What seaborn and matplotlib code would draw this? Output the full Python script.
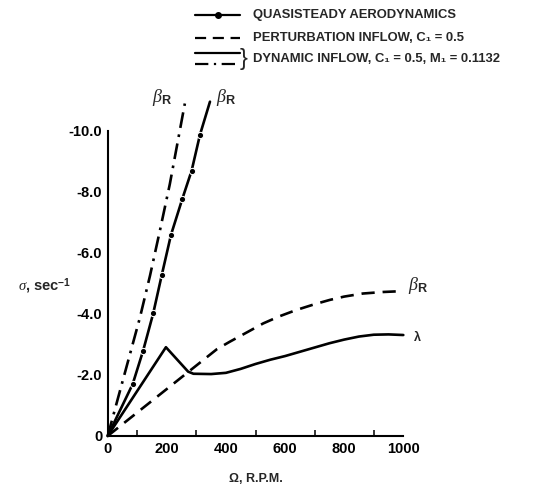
import matplotlib
matplotlib.use("Agg")
import matplotlib.pyplot as plt
import seaborn as sns
from matplotlib.lines import Line2D

# ---- data ----
qs_rpm = [0, 84.5, 120, 154, 183, 214, 252, 284, 312, 346]
qs_sigma = [0, -1.70, -2.80, -4.02, -5.28, -6.59, -7.76, -8.70, -9.87, -10.96]

pert_rpm = [0, 370, 413, 481, 526, 580, 638, 700, 751, 800, 863, 930, 1000]
pert_sigma = [0, -2.85, -3.09, -3.45, -3.69, -3.92, -4.13, -4.32, -4.46, -4.57, -4.67, -4.72, -4.75]

dyn_lam_rpm = [0, 197, 272, 290, 350, 400, 450, 500, 550, 600, 650, 700, 750, 800, 850, 900, 950, 1000]
dyn_lam_sigma = [0, -2.91, -2.11, -2.04, -2.03, -2.07, -2.20, -2.36, -2.50, -2.62, -2.76, -2.90,
                 -3.04, -3.16, -3.26, -3.32, -3.33, -3.31]

dyn_beta_rpm = [0, 109, 143, 177, 210, 261]
dyn_beta_sigma = [0, -3.88, -5.25, -6.75, -8.25, -10.9]

x_ticks = [0, 200, 400, 600, 800, 1000]
x_minor = [100, 300, 500, 700, 900]
y_ticks = [0, -2, -4, -6, -8, -10]
y_tick_labels = ["0", "-2.0", "-4.0", "-6.0", "-8.0", "-10.0"]

legend_labels = ["QUASISTEADY AERODYNAMICS",
                 "PERTURBATION INFLOW, C\u2081 = 0.5",
                 "DYNAMIC INFLOW, C\u2081 = 0.5, M\u2081 = 0.1132"]

# ---- style ----
sns.set_style("white")
plt.rcParams["font.family"] = ["Liberation Sans", "DejaVu Sans"]
plt.rcParams["font.weight"] = "bold"
plt.rcParams["mathtext.fontset"] = "custom"
plt.rcParams["mathtext.it"] = "Liberation Serif:italic:normal"
plt.rcParams["mathtext.rm"] = "Liberation Sans:normal"
plt.rcParams["mathtext.bf"] = "Liberation Sans:bold"

fig = plt.figure(figsize=(5.5, 4.88), dpi=100)
ax = fig.add_axes([0.1958, 0.1066, 0.5375, 0.7063])

lw = 1.9
sns.lineplot(x=qs_rpm, y=qs_sigma, ax=ax, color="black", lw=lw, sort=False,
             marker="o", markersize=4.5, markevery=list(range(1, len(qs_rpm) - 1)))
sns.lineplot(x=pert_rpm, y=pert_sigma, ax=ax, color="black", lw=lw, sort=False,
             linestyle=(0, (5, 3)))
sns.lineplot(x=dyn_lam_rpm, y=dyn_lam_sigma, ax=ax, color="black", lw=lw, sort=False)
sns.lineplot(x=dyn_beta_rpm, y=dyn_beta_sigma, ax=ax, color="black", lw=lw, sort=False,
             linestyle=(0, (6, 2.5, 1, 2.5)))
for ln in ax.lines:
    ln.set_clip_on(False)

ax.set_xlim(0, 1000)
ax.set_ylim(0, -11.3)

for s in ["top", "right"]:
    ax.spines[s].set_visible(False)
ax.spines["left"].set_bounds(0, -10)
ax.spines["bottom"].set_bounds(0, 1000)
for s in ["left", "bottom"]:
    ax.spines[s].set_linewidth(1.5)
    ax.spines[s].set_color("black")

ax.set_xticks(x_ticks)
ax.set_xticks(x_minor, minor=True)
ax.set_yticks(y_ticks)
ax.set_yticklabels(y_tick_labels)
ax.tick_params(axis="both", which="major", direction="in", length=6, width=1.3,
               labelsize=10.5, pad=5, colors="black")
ax.tick_params(axis="x", which="minor", direction="in", length=4, width=1.3,
               bottom=True)
ax.tick_params(axis="x", which="major", length=7, pad=4)
ax.tick_params(axis="y", which="major", pad=4)
for t in ax.get_xticklabels() + ax.get_yticklabels():
    t.set_fontweight("bold")

ax.set_xlabel("")
ax.set_ylabel("")

# axis titles
ax.text(-305, -4.9, r"$\sigma$, sec$^{\mathbf{-1}}$", fontsize=10.5, fontweight="bold",
        ha="left", va="center", clip_on=False)
ax.text(500, 1.42, "\u03a9, R.P.M.", fontsize=9, fontweight="bold",
        ha="center", va="center", clip_on=False)

# curve labels
lab_kw = dict(fontsize=13, fontweight="normal", ha="left", va="center", clip_on=False)
ax.text(150, -11.1, r"$\beta_{\mathbf{R}}$", **lab_kw)
ax.text(366, -11.1, r"$\beta_{\mathbf{R}}$", **lab_kw)
ax.text(1016, -4.92, r"$\beta_{\mathbf{R}}$", **lab_kw)
ax.text(1035, -3.22, "\u03bb", fontsize=9, ha="left", va="center", clip_on=False)

# legend drawn manually in figure pixels
W, H = 550.0, 488.0
def fx(p):
    return p / W
def fy(p):
    return 1 - p / H

x0, x1 = 195, 240
rows = [15, 38, 53, 64]
fig.add_artist(Line2D([fx(x0), fx(x1)], [fy(rows[0])] * 2, color="black", lw=1.6))
fig.add_artist(Line2D([fx((x0 + x1) / 2)], [fy(rows[0])], color="black", marker="o",
                      markersize=4))
fig.add_artist(Line2D([fx(x0), fx(x1)], [fy(rows[1])] * 2, color="black", lw=1.6,
                      linestyle=(0, (5, 3))))
fig.add_artist(Line2D([fx(x0), fx(x1)], [fy(rows[2])] * 2, color="black", lw=1.6))
fig.add_artist(Line2D([fx(x0), fx(x1)], [fy(rows[3])] * 2, color="black", lw=1.6,
                      linestyle=(0, (6, 2.5, 1, 2.5))))
fig.text(fx(240), fy(59), "}", fontsize=17, fontweight="normal", ha="left", va="center")
tx = 253
fs_leg = 9.4
fig.text(fx(tx), fy(rows[0]), legend_labels[0], fontsize=fs_leg, fontweight="bold", va="center")
fig.text(fx(tx), fy(rows[1]), legend_labels[1], fontsize=fs_leg, fontweight="bold", va="center")
fig.text(fx(tx), fy(59), legend_labels[2], fontsize=fs_leg, fontweight="bold", va="center")

fig.savefig("out.png", dpi=100)
